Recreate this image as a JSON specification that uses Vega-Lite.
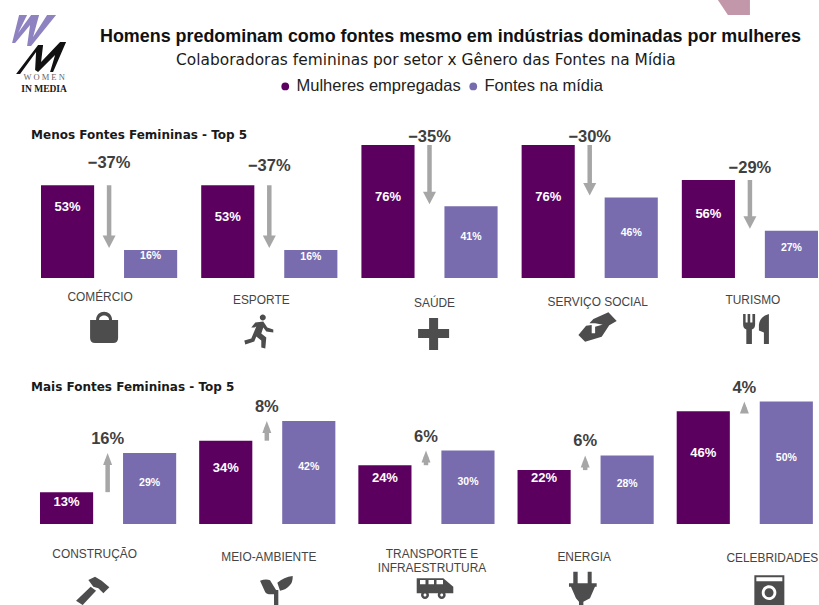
{
  "$schema": "https://vega.github.io/schema/vega-lite/v6.json",
  "width": 819,
  "height": 605,
  "autosize": {"type": "none"},
  "padding": 0,
  "background": "#ffffff",
  "title": {
    "text": "Homens predominam como fontes mesmo em indústrias dominadas por mulheres",
    "anchor": "start",
    "frame": "group",
    "offset": 0,
    "dx": 100,
    "dy": 64,
    "baseline": "alphabetic",
    "font": "Liberation Sans",
    "fontSize": 17.9,
    "fontWeight": "bold",
    "color": "#111111"
  },
  "config": {
    "view": {"stroke": null},
    "axis": {"disable": true},
    "text": {"font": "Liberation Sans"}
  },
  "datasets": {
    "barras_menos": [
      {"setor": "COMÉRCIO", "serie": "Mulheres empregadas", "valor": 0.53},
      {"setor": "COMÉRCIO", "serie": "Fontes na mídia", "valor": 0.16},
      {"setor": "ESPORTE", "serie": "Mulheres empregadas", "valor": 0.53},
      {"setor": "ESPORTE", "serie": "Fontes na mídia", "valor": 0.16},
      {"setor": "SAÚDE", "serie": "Mulheres empregadas", "valor": 0.76},
      {"setor": "SAÚDE", "serie": "Fontes na mídia", "valor": 0.41},
      {"setor": "SERVIÇO SOCIAL", "serie": "Mulheres empregadas", "valor": 0.76},
      {"setor": "SERVIÇO SOCIAL", "serie": "Fontes na mídia", "valor": 0.46},
      {"setor": "TURISMO", "serie": "Mulheres empregadas", "valor": 0.56},
      {"setor": "TURISMO", "serie": "Fontes na mídia", "valor": 0.27}
    ],
    "barras_mais": [
      {"setor": "CONSTRUÇÃO", "serie": "Mulheres empregadas", "valor": 0.13},
      {"setor": "CONSTRUÇÃO", "serie": "Fontes na mídia", "valor": 0.29},
      {"setor": "MEIO-AMBIENTE", "serie": "Mulheres empregadas", "valor": 0.34},
      {"setor": "MEIO-AMBIENTE", "serie": "Fontes na mídia", "valor": 0.42},
      {"setor": "TRANSPORTE E\nINFRAESTRUTURA", "serie": "Mulheres empregadas", "valor": 0.24},
      {"setor": "TRANSPORTE E\nINFRAESTRUTURA", "serie": "Fontes na mídia", "valor": 0.30},
      {"setor": "ENERGIA", "serie": "Mulheres empregadas", "valor": 0.22},
      {"setor": "ENERGIA", "serie": "Fontes na mídia", "valor": 0.28},
      {"setor": "CELEBRIDADES", "serie": "Mulheres empregadas", "valor": 0.46},
      {"setor": "CELEBRIDADES", "serie": "Fontes na mídia", "valor": 0.50}
    ],
    "variacao_menos": [
      {"setor": "COMÉRCIO", "mulheres": 0.53, "fontes": 0.16, "variacao": -0.37},
      {"setor": "ESPORTE", "mulheres": 0.53, "fontes": 0.16, "variacao": -0.37},
      {"setor": "SAÚDE", "mulheres": 0.76, "fontes": 0.41, "variacao": -0.35},
      {"setor": "SERVIÇO SOCIAL", "mulheres": 0.76, "fontes": 0.46, "variacao": -0.30},
      {"setor": "TURISMO", "mulheres": 0.56, "fontes": 0.27, "variacao": -0.29}
    ],
    "variacao_mais": [
      {"setor": "CONSTRUÇÃO", "mulheres": 0.13, "fontes": 0.29, "variacao": 0.16},
      {"setor": "MEIO-AMBIENTE", "mulheres": 0.34, "fontes": 0.42, "variacao": 0.08},
      {"setor": "TRANSPORTE E\nINFRAESTRUTURA", "mulheres": 0.24, "fontes": 0.30, "variacao": 0.06},
      {"setor": "ENERGIA", "mulheres": 0.22, "fontes": 0.28, "variacao": 0.06},
      {"setor": "CELEBRIDADES", "mulheres": 0.46, "fontes": 0.50, "variacao": 0.04}
    ]
  },
  "layer": [
    {
      "encoding": {
        "x": {
          "field": "setor",
          "type": "nominal",
          "sort": null,
          "scale": {
            "type": "band",
            "domain": ["COMÉRCIO", "ESPORTE", "SAÚDE", "SERVIÇO SOCIAL", "TURISMO"],
            "range": [41, 818],
            "paddingInner": 0.15,
            "paddingOuter": 0
          }
        }
      },
      "layer": [
        {
          "data": {"name": "barras_menos"},
          "mark": {"type": "bar"},
          "encoding": {
            "xOffset": {
              "field": "serie",
              "type": "nominal",
              "sort": null,
              "scale": {"domain": ["Mulheres empregadas", "Fontes na mídia"], "paddingInner": 0.36, "paddingOuter": 0}
            },
            "y": {
              "field": "valor",
              "type": "quantitative",
              "stack": null,
              "scale": {"domain": [0, 1], "range": [278, 103], "nice": false}
            },
            "color": {
              "field": "serie",
              "type": "nominal",
              "scale": {"domain": ["Mulheres empregadas", "Fontes na mídia"], "range": ["#5c0060", "#786cae"]},
              "legend": {
                "orient": "none",
                "legendX": 277,
                "legendY": 78,
                "direction": "horizontal",
                "title": null,
                "symbolType": "circle",
                "symbolSize": 60,
                "symbolStrokeWidth": 0,
                "labelFont": "Liberation Sans",
                "labelFontSize": 16.5,
                "labelLimit": 300,
                "labelColor": "#222222",
                "columnPadding": 4,
                "labelOffset": 3,
                "padding": 0
              }
            }
          }
        },
        {
          "data": {"name": "barras_menos"},
          "mark": {
            "type": "text",
            "color": "#ffffff",
            "fontWeight": "bold",
            "baseline": "middle",
            "fontSize": {"expr": "datum.serie === 'Fontes na mídia' ? 10.5 : 13"},
            "dy": {"expr": "datum.serie === 'Fontes na mídia' ? {'COMÉRCIO': 6, 'ESPORTE': 7, 'SAÚDE': 31, 'SERVIÇO SOCIAL': 35, 'TURISMO': 17}[datum.setor] : {'COMÉRCIO': 22, 'ESPORTE': 32, 'SAÚDE': 52, 'SERVIÇO SOCIAL': 52, 'TURISMO': 34}[datum.setor]"}
          },
          "encoding": {
            "xOffset": {"field": "serie", "type": "nominal", "sort": null},
            "y": {"field": "valor", "type": "quantitative", "stack": null},
            "text": {"field": "valor", "type": "quantitative", "format": ".0%"}
          }
        },
        {
          "data": {"name": "variacao_menos"},
          "mark": {"type": "rule", "color": "#a6a6a6", "strokeWidth": 4.5, "y2Offset": -12},
          "encoding": {
            "y": {"field": "mulheres", "type": "quantitative"},
            "y2": {"field": "fontes"}
          }
        },
        {
          "data": {"name": "variacao_menos"},
          "mark": {"type": "point", "filled": true, "opacity": 1, "size": 4, "color": "#a6a6a6", "shape": "M-6.5,-14.5 L6.5,-14.5 L0,-2 Z"},
          "encoding": {"y": {"field": "fontes", "type": "quantitative"}}
        },
        {
          "data": {"name": "variacao_menos"},
          "mark": {
            "type": "text",
            "color": "#3f3f3f",
            "fontWeight": "bold",
            "fontSize": 16.5,
            "baseline": "middle",
            "dy": {"expr": "{'COMÉRCIO': -22, 'ESPORTE': -19, 'SAÚDE': -8, 'SERVIÇO SOCIAL': -8, 'TURISMO': -12}[datum.setor]"}
          },
          "encoding": {
            "y": {"field": "mulheres", "type": "quantitative"},
            "text": {"field": "variacao", "type": "quantitative", "format": ".0%"}
          }
        },
        {
          "data": {"name": "variacao_menos"},
          "mark": {
            "type": "text",
            "color": "#444444",
            "fontSize": 11.9,
            "baseline": "middle",
            "dx": {"expr": "{'COMÉRCIO': -9, 'ESPORTE': -8, 'SAÚDE': 5, 'SERVIÇO SOCIAL': 8, 'TURISMO': 3}[datum.setor]"},
            "dy": {"expr": "{'COMÉRCIO': -3, 'ESPORTE': 0, 'SAÚDE': 3, 'SERVIÇO SOCIAL': 2, 'TURISMO': 0}[datum.setor]"}
          },
          "encoding": {
            "y": {"datum": -0.125, "type": "quantitative"},
            "text": {"field": "setor", "type": "nominal"}
          }
        },
        {
          "data": {"name": "variacao_menos"},
          "mark": {"type": "point", "filled": true, "opacity": 1, "size": 4, "color": "#4d4d4d"},
          "encoding": {
            "y": {"datum": -0.3, "type": "quantitative"},
            "shape": {
              "field": "setor",
              "type": "nominal",
              "legend": null,
              "scale": {
                "domain": ["COMÉRCIO", "ESPORTE", "SAÚDE", "SERVIÇO SOCIAL", "TURISMO"],
                "range": [
                  "M-19,-10.5 L9,-10.5 L9,7.5 Q9,12.5 4,12.5 L-14,12.5 Q-19,12.5 -19,7.5 Z M-13,-10.5 C-13,-21.5 3,-21.5 3,-10.5 L0,-10.5 C0,-16.5 -10,-16.5 -10,-10.5 Z",
                  "M-9.5,-13 a3,3 0 1,0 6,0 a3,3 0 1,0 -6,0 Z M-18,-3 L-14,-8 L-6,-9 L-2,-3 L4,-1 L4,2 L-3,1 L-6,-3 L-8,3 L-3,7 L-4,18 L-8,17 L-8,10 L-13,6 L-15,11 L-24,14 L-25,10 L-18,8 L-13,-4 L-15,-3 Z",
                  "M-0.4,-12.5 L8.6,-12.5 L8.6,-1.5 L19.6,-1.5 L19.6,7.5 L8.6,7.5 L8.6,19.5 L-0.4,19.5 L-0.4,7.5 L-11.4,7.5 L-11.4,-1.5 L-0.4,-1.5 Z",
                  "M-11.3,4.5 L-3.6,-4.8 L2,-5.5 L2,2.8 L5.4,2.8 L5.4,-3.8 L17.7,-7.2 L19.7,-5.5 L12,6.2 L-4.6,11.2 Z M3.7,-11.5 L18.7,-18.2 L27,-9.5 L18.7,-4.8 L5.4,-7.2 L-0.3,-7.2 Z",
                  "M-6.8,-16.5 L-4.3,-16.5 L-4.3,-8 L-2.3,-8 L-2.3,-16.5 L0.3,-16.5 L0.3,-8 L2.5,-8 L2.5,-16.5 L5.2,-16.5 L5.2,-6 Q5.2,-2 2,-1 L2,13.5 L-3.6,13.5 L-3.6,-1 Q-6.8,-2 -6.8,-6 Z M19,-16.5 L19,13.5 L14,13.5 L14,2 L9,0 L9,-6 Q10,-14 19,-16.5 Z"
                ]
              }
            }
          }
        },
        {
          "data": {"values": [{"setor": "COMÉRCIO", "texto": "Menos Fontes Femininas - Top 5"}]},
          "mark": {"type": "text", "align": "left", "baseline": "middle", "dx": -78, "font": "DejaVu Sans", "fontSize": 12, "fontWeight": "bold", "color": "#1a1a1a"},
          "encoding": {
            "y": {"datum": 0.82, "type": "quantitative"},
            "text": {"field": "texto", "type": "nominal"}
          }
        },
        {
          "data": {"values": [{"setor": "COMÉRCIO", "texto": "Colaboradoras femininas por setor x Gênero das Fontes na Mídia"}]},
          "mark": {"type": "text", "align": "left", "baseline": "middle", "dx": 67, "font": "DejaVu Sans", "fontSize": 15.4, "color": "#1a1a1a"},
          "encoding": {
            "y": {"datum": 1.246, "type": "quantitative"},
            "text": {"field": "texto", "type": "nominal"}
          }
        },
        {
          "data": {"values": [{"setor": "COMÉRCIO", "texto": "W O M E N"}]},
          "mark": {"type": "text", "font": "Liberation Serif", "baseline": "middle", "dx": -65, "fontSize": 8.5, "color": "#666666"},
          "encoding": {
            "y": {"datum": 1.146, "type": "quantitative"},
            "text": {"field": "texto", "type": "nominal"}
          }
        },
        {
          "data": {"values": [{"setor": "COMÉRCIO", "texto": "IN MEDIA"}]},
          "mark": {"type": "text", "font": "Liberation Serif", "baseline": "middle", "dx": -65, "fontSize": 9.5, "fontWeight": "bold", "color": "#1a1a1a"},
          "encoding": {
            "y": {"datum": 1.08, "type": "quantitative"},
            "text": {"field": "texto", "type": "nominal"}
          }
        },
        {
          "data": {"values": [{"setor": "COMÉRCIO"}]},
          "mark": {"type": "point", "filled": true, "opacity": 1, "size": 4, "color": "#8f82c0", "shape": "M-90,-35.5 L-82,-35.5 L-91,-17.5 L-78,-35.5 L-70,-35.5 L-76,-13.5 L-62,-35.5 L-53,-35.5 L-78,-4.5 L-82,-4.5 L-79,-25.5 L-94,-7.5 L-97,-7.5 Z"},
          "encoding": {"y": {"datum": 1.3, "type": "quantitative"}}
        },
        {
          "data": {"values": [{"setor": "COMÉRCIO"}]},
          "mark": {"type": "point", "filled": true, "opacity": 1, "size": 4, "color": "#111111", "shape": "M-71,-5.5 L-66,-5.5 L-68,11.5 L-49,-8.5 L-43,-8.5 L-56,21.5 L-59,21.5 L-54,4.5 L-71,21.5 L-74,19.5 L-73,1.5 L-89,23.5 L-93,23.5 Z"},
          "encoding": {"y": {"datum": 1.3, "type": "quantitative"}}
        },
        {
          "data": {"values": [{"setor": "TURISMO"}]},
          "mark": {"type": "point", "filled": true, "opacity": 1, "size": 4, "color": "#c297a9", "shape": "M-35,-55 L0,-55 L0,-35.5 L-22,-35.5 Z"},
          "encoding": {"y": {"datum": 1.3, "type": "quantitative"}}
        }
      ]
    },
    {
      "encoding": {
        "x": {
          "field": "setor",
          "type": "nominal",
          "sort": null,
          "scale": {
            "type": "band",
            "domain": ["CONSTRUÇÃO", "MEIO-AMBIENTE", "TRANSPORTE E\nINFRAESTRUTURA", "ENERGIA", "CELEBRIDADES"],
            "range": [40, 812],
            "paddingInner": 0.15,
            "paddingOuter": 0
          }
        }
      },
      "layer": [
        {
          "data": {"name": "barras_mais"},
          "mark": {"type": "bar"},
          "encoding": {
            "xOffset": {
              "field": "serie",
              "type": "nominal",
              "sort": null,
              "scale": {"domain": ["Mulheres empregadas", "Fontes na mídia"], "paddingInner": 0.36, "paddingOuter": 0}
            },
            "y": {
              "field": "valor",
              "type": "quantitative",
              "stack": null,
              "scale": {"domain": [0, 1], "range": [524, 279], "nice": false}
            },
            "color": {
              "field": "serie",
              "type": "nominal",
              "scale": {"domain": ["Mulheres empregadas", "Fontes na mídia"], "range": ["#5c0060", "#786cae"]},
              "legend": null
            }
          }
        },
        {
          "data": {"name": "barras_mais"},
          "mark": {
            "type": "text",
            "color": "#ffffff",
            "fontWeight": "bold",
            "baseline": "middle",
            "fontSize": {"expr": "datum.serie === 'Fontes na mídia' ? 10.5 : 13"},
            "dy": {"expr": "datum.serie === 'Fontes na mídia' ? {'CONSTRUÇÃO': 30, 'MEIO-AMBIENTE': 46, 'TRANSPORTE E\\nINFRAESTRUTURA': 31.5, 'ENERGIA': 29, 'CELEBRIDADES': 56.5}[datum.setor] : {'CONSTRUÇÃO': 10, 'MEIO-AMBIENTE': 27, 'TRANSPORTE E\\nINFRAESTRUTURA': 13, 'ENERGIA': 8, 'CELEBRIDADES': 42}[datum.setor]"}
          },
          "encoding": {
            "xOffset": {"field": "serie", "type": "nominal", "sort": null},
            "y": {"field": "valor", "type": "quantitative", "stack": null},
            "text": {"field": "valor", "type": "quantitative", "format": ".0%"}
          }
        },
        {
          "data": {"name": "variacao_mais"},
          "mark": {"type": "rule", "color": "#a6a6a6", "strokeWidth": 4.5, "y2Offset": 6},
          "encoding": {
            "y": {"field": "mulheres", "type": "quantitative"},
            "y2": {"field": "fontes"}
          }
        },
        {
          "data": {"name": "variacao_mais"},
          "mark": {"type": "point", "filled": true, "opacity": 1, "size": 4, "color": "#a6a6a6", "shape": "M-4.5,12 L4.5,12 L0,0 Z"},
          "encoding": {"y": {"field": "fontes", "type": "quantitative"}}
        },
        {
          "data": {"name": "variacao_mais"},
          "mark": {"type": "text", "color": "#3f3f3f", "fontWeight": "bold", "fontSize": 16.5, "baseline": "middle", "dy": -14},
          "encoding": {
            "y": {"field": "fontes", "type": "quantitative"},
            "text": {"field": "variacao", "type": "quantitative", "format": ".0%"}
          }
        },
        {
          "data": {"name": "variacao_mais"},
          "mark": {
            "type": "text",
            "color": "#444444",
            "fontSize": 11.9,
            "baseline": "middle",
            "lineBreak": "\n",
            "lineHeight": 14,
            "dx": {"expr": "{'CONSTRUÇÃO': -13, 'MEIO-AMBIENTE': 2, 'TRANSPORTE E\\nINFRAESTRUTURA': 6, 'ENERGIA': -1, 'CELEBRIDADES': 28}[datum.setor]"},
            "dy": {"expr": "{'CONSTRUÇÃO': -3, 'MEIO-AMBIENTE': 0, 'TRANSPORTE E\\nINFRAESTRUTURA': -3, 'ENERGIA': 0, 'CELEBRIDADES': 1}[datum.setor]"}
          },
          "encoding": {
            "y": {"datum": -0.135, "type": "quantitative"},
            "text": {"field": "setor", "type": "nominal"}
          }
        },
        {
          "data": {"name": "variacao_mais"},
          "mark": {"type": "point", "filled": true, "opacity": 1, "size": 4, "color": "#4d4d4d"},
          "encoding": {
            "y": {"datum": -0.27, "type": "quantitative"},
            "shape": {
              "field": "setor",
              "type": "nominal",
              "legend": null,
              "scale": {
                "domain": ["CONSTRUÇÃO", "MEIO-AMBIENTE", "TRANSPORTE E\nINFRAESTRUTURA", "ENERGIA", "CELEBRIDADES"],
                "range": [
                  "M-31.6,10.5 L-17,-3.5 L-11.6,0.5 L-25,14.9 Z M-19.3,-10.2 L-12.6,-13.5 L-6,-9.5 L1.7,-2.8 L-4.3,3.2 L-9.3,-1.8 L-14.3,-3.5 Z",
                  "M7.2,-0.15 L11.5,-0.15 L11.5,14.85 L7.2,14.85 Z M-6.8,-9.5 Q-1,-11.5 3.2,-10 L9.2,-0.15 L7.2,3.85 Q0,5 -1.8,1.5 Z M10.5,-7.5 Q17,-13 25.9,-14.15 Q26,-8 23.2,-5.15 Q19,0 13.2,0.5 Z",
                  "M-9.3,-11.8 L17.3,-11.8 L27.3,-3.5 L27.3,3.2 L-9.3,3.2 Z M-6,-10.2 L-6,-6 L-0.5,-6 L-0.5,-10.2 Z M2.5,-10.2 L2.5,-6 L8,-6 L8,-10.2 Z M10.5,-10.2 L10.5,-6 L17,-6 L17,-10.2 Z M-5,4.85 a4,4 0 1,1 8,0 a4,4 0 1,1 -8,0 Z M-2.5,4.85 a1.5,1.5 0 1,0 3,0 a1.5,1.5 0 1,0 -3,0 Z M11.7,4.85 a4,4 0 1,1 8,0 a4,4 0 1,1 -8,0 Z M14.2,4.85 a1.5,1.5 0 1,0 3,0 a1.5,1.5 0 1,0 -3,0 Z",
                  "M-11.9,-18.5 L-7.5,-18.5 L-7.5,-6.8 L2.5,-6.8 L2.5,-18.5 L6.5,-18.5 L6.5,-6.8 L11.5,-6.8 L11.5,-3.5 L9.8,-3.5 L4.8,8.2 L-1.8,11.5 L-1.8,14.85 L-6.2,14.85 L-6.2,11.5 L-9.2,8.2 L-14.2,-3.5 L-16.2,-3.5 L-16.2,-6.8 L-11.9,-6.8 Z",
                  "M10,-15 L40,-15 L40,15.85 L10,15.85 Z M12,-13 L12,-9 L38,-9 L38,-13 Z M17.4,2.5 a7.3,7.3 0 1,0 14.6,0 a7.3,7.3 0 1,0 -14.6,0 Z M20.2,2.5 a4.5,4.5 0 1,1 9,0 a4.5,4.5 0 1,1 -9,0 Z"
                ]
              }
            }
          }
        },
        {
          "data": {"values": [{"setor": "CONSTRUÇÃO", "texto": "Mais Fontes Femininas - Top 5"}]},
          "mark": {"type": "text", "align": "left", "baseline": "middle", "dx": -76.65, "font": "DejaVu Sans", "fontSize": 12, "fontWeight": "bold", "color": "#1a1a1a"},
          "encoding": {
            "y": {"datum": 0.56, "type": "quantitative"},
            "text": {"field": "texto", "type": "nominal"}
          }
        }
      ]
    }
  ],
  "resolve": {"scale": {"x": "independent", "y": "independent", "shape": "independent"}}
}
